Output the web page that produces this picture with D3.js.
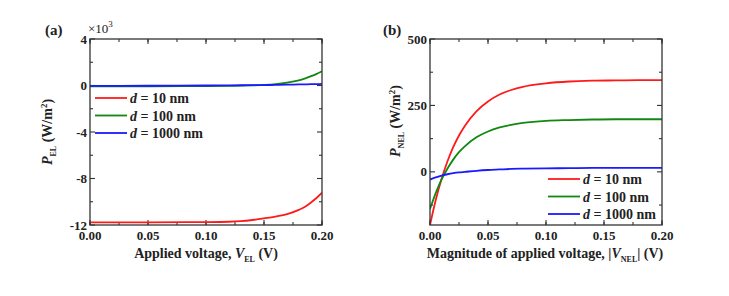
<!DOCTYPE html>
<html lang="en">
<head>
<meta charset="UTF-8">
<title>P_EL and P_NEL vs voltage</title>
<script src="https://d3js.org/d3.v7.min.js"></script>
<style>
  body { margin: 0; background: #fff; }
  text { font-family: "Liberation Serif", "Times New Roman", serif; font-weight: bold; fill: #222; }
</style>
</head>
<body>
<div id="chart"></div>
<script>
// panel (a): electroluminescent power, values in units of 10^3 W/m^2
var voltA = [0, 0.05, 0.1, 0.12, 0.13, 0.14, 0.15, 0.16, 0.17, 0.18, 0.185, 0.19, 0.195, 0.2];
var redA = [-11.78, -11.77, -11.75, -11.72, -11.67, -11.57, -11.43, -11.27, -11.06, -10.7, -10.45, -10.1, -9.7, -9.22];
var greenA = [-0.08, -0.07, -0.05, -0.03, -0.01, 0.01, 0.05, 0.12, 0.25, 0.45, 0.6, 0.78, 0.98, 1.23];
var blueA = [-0.03, -0.02, 0.0, 0.01, 0.02, 0.03, 0.04, 0.05, 0.07, 0.09, 0.1, 0.11, 0.12, 0.14];

// panel (b): negative electroluminescent power, W/m^2
var voltB = [0, 0.005, 0.01, 0.015, 0.02, 0.025, 0.03, 0.04, 0.05, 0.06, 0.07, 0.08, 0.1, 0.12, 0.14, 0.16, 0.18, 0.2];
var redB = [-200, -105, -26, 39, 93, 137, 173, 228, 265, 291, 308, 320, 333, 340, 343, 344, 345, 345];
var greenB = [-140, -79, -28, 12, 46, 74, 96, 130, 152, 167, 177, 184, 192, 195, 197, 198, 198, 198];
var blueB = [-29, -21, -14, -9, -5, -2, 0, 4, 7, 9, 11, 12, 13, 14, 15, 15, 15, 15];

var legendLabels = ["10 nm", "100 nm", "1000 nm"];
var colors = ["#ff1a1a", "#118811", "#1a1aff"];
var xTicks = [0, 0.05, 0.1, 0.15, 0.2];
var yTicksA = [-12, -8, -4, 0, 4];
var yTicksB = [0, 250, 500];

var svg = d3.select("#chart").append("svg")
    .attr("width", 729)
    .attr("height", 296);

var plotTop = 39, plotBottom = 225;

function panel(opts) {
    var x = d3.scaleLinear().domain([0, 0.2]).range([opts.left, opts.right]);
    var y = d3.scaleLinear().domain(opts.yDomain).range([plotBottom, plotTop]);
    var g = svg.append("g");

    var clipId = "clip" + opts.id;
    svg.append("clipPath").attr("id", clipId)
        .append("rect")
        .attr("x", opts.left).attr("y", plotTop)
        .attr("width", opts.right - opts.left).attr("height", plotBottom - plotTop);

    // inward ticks, all four sides
    var minorX = d3.range(0, 0.2001, 0.025);
    var tick = function(sel, vals, len, side) {
        vals.forEach(function(v) {
            if (side === "b") sel.append("line").attr("x1", x(v)).attr("x2", x(v)).attr("y1", plotBottom).attr("y2", plotBottom - len);
            if (side === "t") sel.append("line").attr("x1", x(v)).attr("x2", x(v)).attr("y1", plotTop).attr("y2", plotTop + len);
            if (side === "l") sel.append("line").attr("y1", y(v)).attr("y2", y(v)).attr("x1", opts.left).attr("x2", opts.left + len);
            if (side === "r") sel.append("line").attr("y1", y(v)).attr("y2", y(v)).attr("x1", opts.right).attr("x2", opts.right - len);
        });
    };
    var tg = g.append("g").attr("stroke", "#333").attr("stroke-width", 1.1);
    tick(tg, minorX, 3, "b");
    tick(tg, minorX, 3, "t");
    tick(tg, xTicks, 5, "b");
    tick(tg, xTicks, 5, "t");
    tick(tg, opts.yMinor, 3, "l");
    tick(tg, opts.yMinor, 3, "r");
    tick(tg, opts.yTicks, 5, "l");
    tick(tg, opts.yTicks, 5, "r");

    // curves
    var series = [opts.red, opts.green, opts.blue];
    var line = d3.line()
        .x(function(d) { return x(d[0]); })
        .y(function(d) { return y(d[1]); })
        .curve(d3.curveMonotoneX);
    series.forEach(function(s, i) {
        g.append("path")
            .attr("clip-path", "url(#" + clipId + ")")
            .datum(opts.volt.map(function(v, j) { return [v, s[j]]; }))
            .attr("fill", "none")
            .attr("stroke", colors[i])
            .attr("stroke-width", 1.8)
            .attr("d", line);
    });

    // frame
    g.append("rect")
        .attr("x", opts.left).attr("y", plotTop)
        .attr("width", opts.right - opts.left).attr("height", plotBottom - plotTop)
        .attr("fill", "none").attr("stroke", "#333").attr("stroke-width", 1.3);

    // tick labels
    xTicks.forEach(function(v) {
        g.append("text").attr("x", x(v)).attr("y", 240)
            .attr("text-anchor", "middle").style("font-size", "13px")
            .text(d3.format(".2f")(v));
    });
    opts.yTicks.forEach(function(v) {
        g.append("text").attr("x", opts.left - 3).attr("y", y(v) + 4.5)
            .attr("text-anchor", "end").style("font-size", "13px")
            .text(v < 0 ? "-" + Math.abs(v) : v);
    });

    // legend
    legendLabels.forEach(function(lab, i) {
        var ly = opts.legY + i * 17.5;
        g.append("line")
            .attr("x1", opts.legX).attr("x2", opts.legX + 32)
            .attr("y1", ly).attr("y2", ly)
            .attr("stroke", colors[i]).attr("stroke-width", 1.8);
        var t = g.append("text").attr("x", opts.legX + 35).attr("y", ly + 5)
            .style("font-size", "14px");
        t.append("tspan").style("font-style", "italic").text("d");
        t.append("tspan").text(" = " + lab);
    });
    return g;
}

panel({
    id: "a", left: 90, right: 322,
    yDomain: [-12, 4], yTicks: yTicksA, yMinor: [-10, -6, -2, 2],
    volt: voltA, red: redA, green: greenA, blue: blueA,
    legX: 95, legY: 98
});

panel({
    id: "b", left: 430, right: 662,
    yDomain: [-200, 500], yTicks: yTicksB, yMinor: [-125, 125, 375],
    volt: voltB, red: redB, green: greenB, blue: blueB,
    legX: 548, legY: 179
});

// panel labels
svg.append("text").attr("x", 45).attr("y", 35).style("font-size", "15px").text("(a)");
svg.append("text").attr("x", 383).attr("y", 35).style("font-size", "15px").text("(b)");
var mult = svg.append("text").attr("x", 88).attr("y", 33).style("font-size", "13px").style("font-weight", "normal");
mult.append("tspan").text("\u00d710");
mult.append("tspan").attr("dy", -6).style("font-size", "9px").text("3");

// x axis titles
var xa = svg.append("text").attr("x", 206).attr("y", 258).attr("text-anchor", "middle").style("font-size", "14px");
xa.append("tspan").text("Applied voltage, ");
xa.append("tspan").style("font-style", "italic").text("V");
xa.append("tspan").attr("dy", 4).style("font-size", "8px").text("EL");
xa.append("tspan").attr("dy", -4).text(" (V)");

var xb = svg.append("text").attr("x", 545).attr("y", 258).attr("text-anchor", "middle").style("font-size", "14px");
xb.append("tspan").text("Magnitude of applied voltage, |");
xb.append("tspan").style("font-style", "italic").text("V");
xb.append("tspan").attr("dy", 4).style("font-size", "8px").text("NEL");
xb.append("tspan").attr("dy", -4).text("| (V)");

// y axis titles
var ya = svg.append("text")
    .attr("transform", "translate(52,132) rotate(-90)")
    .attr("text-anchor", "middle").style("font-size", "14px");
ya.append("tspan").style("font-style", "italic").text("P");
ya.append("tspan").attr("dy", 4).style("font-size", "8px").text("EL");
ya.append("tspan").attr("dy", -4).text(" (W/m");
ya.append("tspan").attr("dy", -5).style("font-size", "9px").text("2");
ya.append("tspan").attr("dy", 5).text(")");

var yb = svg.append("text")
    .attr("transform", "translate(400,121) rotate(-90)")
    .attr("text-anchor", "middle").style("font-size", "14px");
yb.append("tspan").style("font-style", "italic").text("P");
yb.append("tspan").attr("dy", 4).style("font-size", "8px").text("NEL");
yb.append("tspan").attr("dy", -4).text(" (W/m");
yb.append("tspan").attr("dy", -5).style("font-size", "9px").text("2");
yb.append("tspan").attr("dy", 5).text(")");
</script>
</body>
</html>
